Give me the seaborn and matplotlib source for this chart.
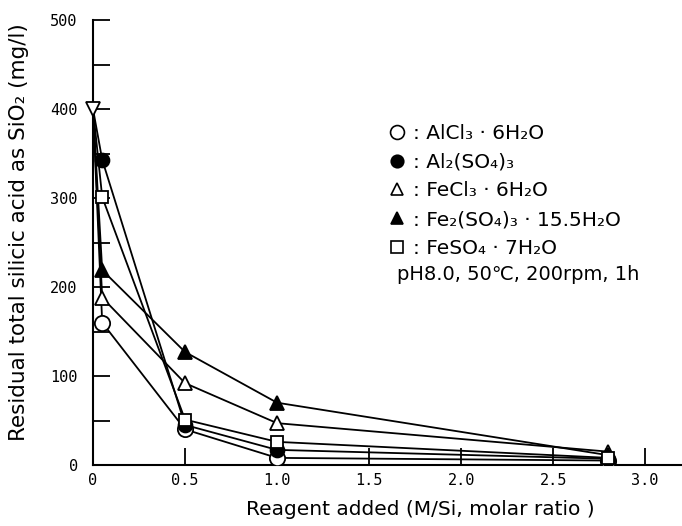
import matplotlib
matplotlib.use("Agg")
import matplotlib.pyplot as plt
import seaborn as sns
import pandas as pd
from matplotlib.lines import Line2D
from matplotlib.ticker import MultipleLocator

# ---- data ----
ratio = [0.0, 0.05, 0.5, 1.0, 2.8]
alcl3 = [400, 160, 40, 8, 5]
al2so43 = [400, 343, 45, 17, 7]
fecl3 = [400, 188, 92, 47, 15]
fe2so43 = [400, 219, 127, 70, 11]
feso4 = [400, 301, 51, 26, 8]
initial_x = [0.0]
initial_y = [400]

labels = [": AlCl₃ · 6H₂O", ": Al₂(SO₄)₃", ": FeCl₃ · 6H₂O",
          ": Fe₂(SO₄)₃ · 15.5H₂O", ": FeSO₄ · 7H₂O"]
series = [alcl3, al2so43, fecl3, fe2so43, feso4]
markers = ["o", "o", "^", "^", "s"]
faces = ["white", "black", "white", "black", "white"]
sizes = [11, 10, 10, 10, 9]
x_ticks = [0, 0.5, 1.0, 1.5, 2.0, 2.5, 3.0]
x_ticklabels = ["0", "0.5", "1.0", "1.5", "2.0", "2.5", "3.0"]
y_ticks = [0, 100, 200, 300, 400, 500]

sns.set_style("ticks")
plt.rcParams["font.family"] = ["DejaVu Sans"]
plt.rcParams["text.color"] = "black"
plt.rcParams["axes.labelcolor"] = "black"
plt.rcParams["xtick.color"] = "black"
plt.rcParams["ytick.color"] = "black"

fig = plt.figure(figsize=(6.82, 5.26), dpi=100)
ax = fig.add_axes([93/682, 1 - 465/526, 1 - 93/682, (465 - 20)/526])

handles = []
for vals, lab, mk, fc, ms in zip(series, labels, markers, faces, sizes):
    df = pd.DataFrame({"x": ratio, "y": vals})
    sns.lineplot(data=df, x="x", y="y", ax=ax, color="black", lw=1.3,
                 marker=mk, markersize=ms, markerfacecolor=fc,
                 markeredgecolor="black", markeredgewidth=1.3,
                 markevery=[1, 2, 3, 4], sort=False, zorder=3)
    handles.append(Line2D([], [], ls="none", marker=mk, markersize=ms - 1,
                          markerfacecolor=fc, markeredgecolor="black",
                          markeredgewidth=1.2, label=lab))

ax.plot(initial_x, initial_y, ls="none", marker="v", markersize=10,
        markerfacecolor="white", markeredgecolor="black",
        markeredgewidth=1.3, zorder=4, clip_on=False)

ax.set_xlim(0, 3.2)
ax.set_ylim(0, 500)
ax.set_xticks(x_ticks)
ax.set_xticklabels(x_ticklabels, family="DejaVu Sans Mono", fontsize=11)
ax.set_yticks(y_ticks)
ax.set_yticklabels([str(v) for v in y_ticks], family="DejaVu Sans Mono", fontsize=11)
ax.yaxis.set_minor_locator(MultipleLocator(50))
ax.tick_params(axis="both", which="both", direction="in", length=12,
               width=1.3, color="black", pad=11)
ax.tick_params(axis="x", pad=6)
for s in ["top", "right"]:
    ax.spines[s].set_visible(False)
for s in ["left", "bottom"]:
    ax.spines[s].set_linewidth(1.5)
    ax.spines[s].set_color("black")

ax.set_xlabel("Reagent added (M/Si, molar ratio )", fontsize=14.5)
ax.xaxis.set_label_coords((420 - 93) / 589, (465 - 500) / 445)
ax.set_ylabel("Residual total silicic acid as SiO₂ (mg/l)", fontsize=15.5)
ax.yaxis.set_label_coords(-0.108, 0.524)

leg = ax.legend(handles=handles, loc="upper left",
                bbox_to_anchor=(390/682, 1 - 124/526), bbox_transform=fig.transFigure,
                frameon=False, handlelength=0.7, handletextpad=0.45,
                labelspacing=0.48, fontsize=14.5, borderaxespad=0, borderpad=0)
ax.text(397/682, 1 - 275/526, "pH8.0, 50℃, 200rpm, 1h", transform=fig.transFigure,
        fontsize=14, va="center", ha="left")

fig.savefig("out.png", dpi=100)
